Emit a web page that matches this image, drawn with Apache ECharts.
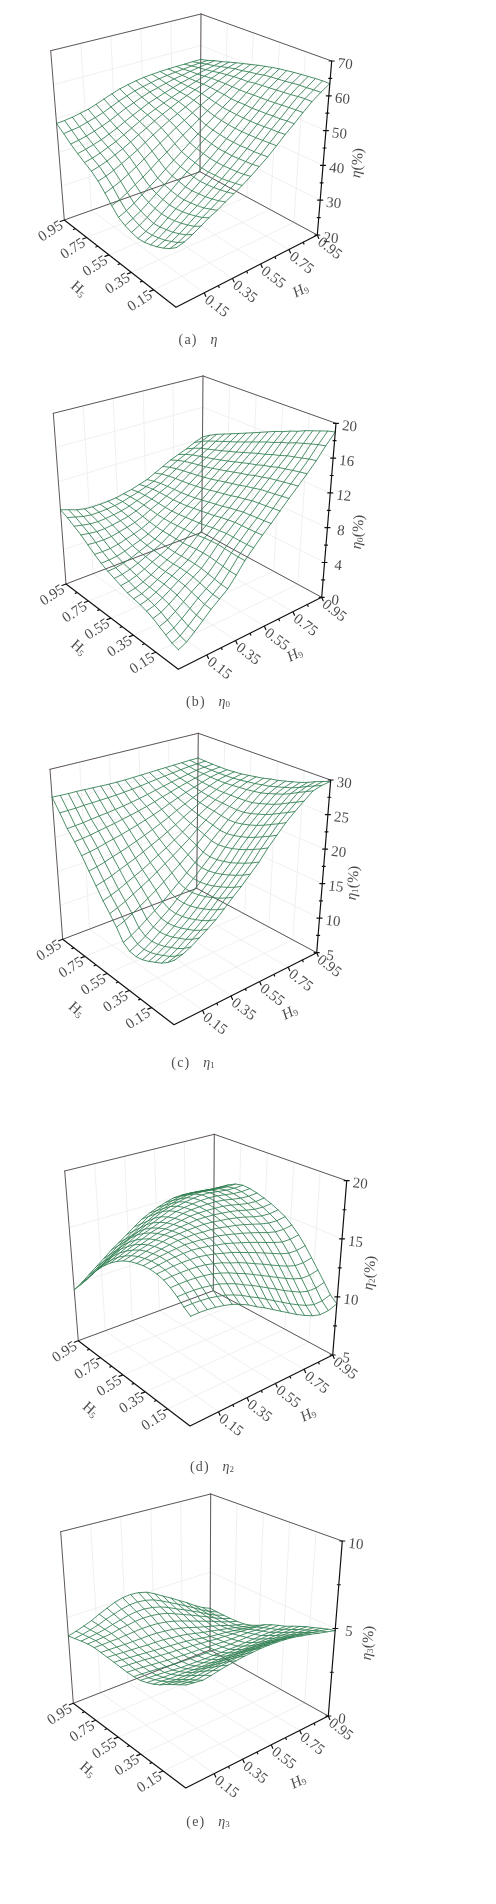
<!DOCTYPE html>
<html><head><meta charset="utf-8">
<style>html,body{margin:0;padding:0;background:#fff}#c{width:496px;height:1904px}</style>
<script src="https://cdn.jsdelivr.net/npm/echarts@6/dist/echarts.min.js"></script>
</head><body><div id="c"></div>
<script>
// mesh positions along both H axes
const hGrid=[-0.05,0.006,0.061,0.117,0.172,0.228,0.283,0.339,0.394,0.45,0.506,0.561,0.617,0.672,0.728,0.783,0.839,0.894,0.95];
const hTicks=[0.15,0.35,0.55,0.75,0.95];
const hTickLabels=['0.15','0.35','0.55','0.75','0.95'];
// each row: one H5 value (ascending), each column: one H9 value (ascending)
const etaA=[
[36,36.5,37.5,38.7,40,41,42.3,43.5,44.8,46.3,48,49.7,51.8,54,56,58.2,60.3,62,63.5],
[34.5,35.1,36.2,37.5,38.9,40.2,41.5,42.9,44.3,45.8,47.6,49.4,51.6,53.7,55.9,58.1,60.3,61.9,63.5],
[33.4,34.2,35.3,36.7,38.2,39.4,40.9,42.4,43.9,45.5,47.4,49.2,51.4,53.6,55.6,57.9,60.1,61.7,63.4],
[32.5,33.3,34.5,36,37.5,38.9,40.4,42,43.5,45.3,47.2,49.1,51.2,53.4,55.5,57.7,59.8,61.6,63.2],
[31.8,32.7,34,35.5,37,38.5,40.1,41.7,43.4,45.1,47,48.9,51.1,53.2,55.3,57.5,59.6,61.4,63],
[31.2,32.2,33.5,35.1,36.7,38.2,39.8,41.5,43.2,45,47,48.9,51,53.1,55.2,57.3,59.4,61.1,62.8],
[31,32,33.3,35,36.6,38.2,39.8,41.6,43.3,45.1,47,48.9,51,53.1,55,57.2,59.2,60.9,62.5],
[31.4,32.4,33.7,35.3,36.9,38.5,40.2,42,43.7,45.4,47.3,49.1,51.1,53.1,55.1,57.1,59,60.7,62.2],
[32,33.1,34.3,35.8,37.4,39,40.6,42.4,44.1,45.8,47.7,49.4,51.3,53.2,55,56.9,58.8,60.4,61.8],
[33,34,35.2,36.7,38.2,39.7,41.4,43.1,44.7,46.4,48.1,49.8,51.6,53.3,55,56.8,58.4,59.9,61.3],
[35,35.8,37,38.4,39.7,41.2,42.8,44.3,45.9,47.5,49,50.6,52.2,53.7,55.3,56.8,58.3,59.6,60.8],
[37.3,38.1,39,40.2,41.5,42.9,44.3,45.8,47.2,48.7,50,51.4,52.8,54.1,55.4,56.8,58.1,59.1,60.2],
[39.4,40,40.9,42,43.1,44.3,45.7,47.1,48.4,49.7,50.9,52.1,53.3,54.5,55.6,56.7,57.8,58.8,59.6],
[41,41.6,42.3,43.3,44.3,45.5,46.8,48,49.3,50.5,51.6,52.7,53.7,54.7,55.6,56.6,57.5,58.3,59],
[42.2,42.7,43.4,44.3,45.2,46.4,47.6,48.8,50,51,52,52.9,53.8,54.7,55.5,56.3,57,57.7,58.3],
[43.5,44,44.6,45.3,46.2,47.2,48.4,49.5,50.6,51.7,52.5,53.3,54.1,54.8,55.4,56,56.6,57.1,57.6],
[45,45.4,45.9,46.6,47.4,48.3,49.4,50.5,51.4,52.4,53.2,53.8,54.4,55,55.4,55.9,56.3,56.7,57],
[46.8,47.1,47.4,48.1,48.7,49.5,50.5,51.5,52.4,53.2,53.8,54.3,54.8,55.1,55.4,55.6,55.9,56.1,56.2],
[48.5,48.7,49,49.5,50,50.8,51.7,52.6,53.4,54,54.5,54.9,55.1,55.3,55.4,55.5,55.5,55.6,55.6]];
const eta0=[
[2.1,2.5,3.2,4,4.8,5.5,6.2,7.3,8.5,9.5,10.5,11.4,12.4,13.4,14.4,15.4,16.5,17.8,19],
[2.3,2.68,3.34,4.1,4.88,5.55,6.25,7.31,8.47,9.45,10.43,11.31,12.3,13.29,14.28,15.26,16.35,17.62,18.8],
[2.7,3.05,3.66,4.36,5.09,5.73,6.39,7.39,8.5,9.44,10.38,11.24,12.2,13.16,14.13,15.09,16.12,17.37,18.5],
[3.1,3.41,3.96,4.62,5.3,5.9,6.53,7.48,8.54,9.43,10.34,11.16,12.11,13.04,13.98,14.9,15.91,17.11,18.2],
[3.5,3.77,4.27,4.88,5.51,6.08,6.67,7.58,8.58,9.43,10.3,11.09,12.01,12.92,13.83,14.73,15.7,16.85,17.9],
[3.8,4.03,4.48,5.03,5.62,6.17,6.72,7.57,8.52,9.32,10.16,10.91,11.8,12.69,13.59,14.45,15.38,16.49,17.5],
[4,4.21,4.62,5.13,5.68,6.2,6.72,7.53,8.44,9.22,10.02,10.77,11.64,12.51,13.4,14.23,15.14,16.23,17.2],
[4.15,4.33,4.7,5.16,5.68,6.16,6.67,7.43,8.29,9.04,9.82,10.53,11.39,12.25,13.11,13.93,14.81,15.86,16.8],
[4.3,4.46,4.79,5.21,5.7,6.16,6.65,7.36,8.19,8.91,9.67,10.37,11.21,12.06,12.91,13.71,14.56,15.58,16.5],
[4.6,4.73,5,5.37,5.82,6.23,6.68,7.35,8.13,8.8,9.53,10.19,11.02,11.84,12.66,13.43,14.25,15.23,16.1],
[4.9,4.99,5.21,5.53,5.93,6.31,6.73,7.35,8.06,8.7,9.38,10.02,10.82,11.61,12.41,13.15,13.94,14.87,15.7],
[5.2,5.25,5.41,5.68,6.03,6.39,6.77,7.34,8,8.59,9.24,9.84,10.62,11.38,12.17,12.87,13.62,14.51,15.3],
[5.6,5.61,5.71,5.92,6.23,6.53,6.88,7.39,7.99,8.53,9.15,9.71,10.46,11.2,11.93,12.61,13.32,14.15,14.9],
[6.1,6.07,6.1,6.25,6.5,6.75,7.05,7.5,8.03,8.53,9.09,9.61,10.33,11.03,11.73,12.36,13.03,13.81,14.5],
[6.7,6.61,6.58,6.65,6.84,7.05,7.3,7.67,8.14,8.57,9.08,9.56,10.22,10.88,11.56,12.13,12.74,13.47,14.1],
[7.3,7.16,7.05,7.07,7.18,7.35,7.53,7.85,8.24,8.62,9.08,9.5,10.13,10.74,11.37,11.9,12.46,13.12,13.7],
[7.8,7.61,7.44,7.39,7.45,7.57,7.71,7.96,8.29,8.61,9.03,9.41,10,10.58,11.17,11.65,12.17,12.77,13.3],
[8.3,8.06,7.82,7.7,7.7,7.76,7.86,8.03,8.3,8.56,8.91,9.25,9.8,10.34,10.88,11.32,11.78,12.34,12.8],
[8.7,8.4,8.1,7.9,7.85,7.85,7.9,8,8.2,8.4,8.7,9,9.5,10,10.5,10.9,11.3,11.8,12.2]];
const eta1=[
[13.7,14,14.5,15.2,15.9,16.7,17.7,18.8,19.8,21,22.2,23.7,25,26.3,27.4,28.4,29.4,29.7,29.8],
[12.8,13.16,13.7,14.45,15.18,16.01,17.02,18.15,19.16,20.37,21.59,23.08,24.4,25.7,26.82,27.83,28.87,29.23,29.4],
[12.1,12.51,13.09,13.86,14.61,15.46,16.48,17.6,18.63,19.84,21.06,22.54,23.85,25.15,26.28,27.32,28.35,28.76,29],
[11.6,12.04,12.64,13.42,14.18,15.03,16.04,17.15,18.17,19.37,20.57,22.02,23.31,24.59,25.71,26.74,27.77,28.22,28.5],
[11.1,11.57,12.19,12.99,13.77,14.62,15.64,16.73,17.76,18.94,20.13,21.56,22.83,24.1,25.21,26.25,27.28,27.77,28.1],
[10.7,11.21,11.85,12.66,13.46,14.32,15.33,16.42,17.44,18.61,19.8,21.19,22.45,23.7,24.82,25.85,26.9,27.42,27.8],
[10.5,11.03,11.69,12.5,13.3,14.16,15.17,16.22,17.24,18.38,19.54,20.91,22.14,23.37,24.46,25.5,26.52,27.09,27.5],
[10.6,11.14,11.79,12.6,13.38,14.21,15.18,16.22,17.2,18.31,19.43,20.74,21.93,23.12,24.18,25.18,26.19,26.76,27.2],
[11.2,11.73,12.36,13.12,13.87,14.67,15.58,16.54,17.48,18.53,19.6,20.83,21.95,23.07,24.09,25.05,26,26.56,27],
[12.7,13.16,13.71,14.38,15.03,15.74,16.54,17.39,18.22,19.15,20.1,21.21,22.21,23.21,24.12,24.97,25.82,26.32,26.7],
[14,14.4,14.89,15.49,16.07,16.69,17.4,18.16,18.9,19.72,20.57,21.57,22.46,23.37,24.17,24.94,25.71,26.16,26.5],
[15.2,15.56,15.98,16.52,17.03,17.57,18.2,18.86,19.51,20.24,21.01,21.88,22.69,23.49,24.21,24.9,25.59,25.99,26.3],
[16.7,16.99,17.34,17.8,18.22,18.67,19.19,19.75,20.3,20.92,21.57,22.32,23.01,23.7,24.32,24.9,25.5,25.84,26.1],
[18.2,18.43,18.72,19.09,19.42,19.8,20.21,20.66,21.13,21.64,22.19,22.83,23.4,23.98,24.5,25,25.49,25.79,26],
[19.8,19.97,20.17,20.47,20.72,20.99,21.31,21.65,22.01,22.41,22.85,23.36,23.82,24.29,24.7,25.1,25.5,25.74,25.9],
[21.2,21.32,21.46,21.68,21.87,22.07,22.31,22.55,22.83,23.13,23.48,23.88,24.24,24.61,24.95,25.27,25.58,25.77,25.9],
[22.5,22.58,22.67,22.83,22.96,23.07,23.23,23.39,23.59,23.81,24.07,24.37,24.64,24.92,25.16,25.4,25.64,25.8,25.9],
[24.2,24.22,24.23,24.31,24.35,24.39,24.44,24.49,24.6,24.71,24.85,25.03,25.19,25.35,25.5,25.65,25.8,25.89,25.95],
[25.9,25.85,25.8,25.8,25.75,25.7,25.65,25.6,25.6,25.6,25.65,25.7,25.75,25.8,25.85,25.9,25.95,26,26]];
const eta2=[
[13.9,13.9,13.85,13.75,13.6,13.4,13.1,12.75,12.3,11.9,11.45,11,10.55,10.1,9.7,9.35,9.12,9.15,9.4],
[14.3,14.3,14.25,14.17,14.02,13.84,13.56,13.23,12.81,12.44,12.01,11.57,11.14,10.7,10.3,9.94,9.69,9.69,9.9],
[14.8,14.8,14.78,14.71,14.59,14.44,14.18,13.89,13.51,13.17,12.77,12.36,11.96,11.54,11.15,10.79,10.55,10.52,10.7],
[15.2,15.22,15.22,15.17,15.09,14.96,14.75,14.49,14.16,13.85,13.49,13.12,12.74,12.36,11.98,11.64,11.38,11.35,11.5],
[15.5,15.54,15.56,15.55,15.5,15.41,15.23,15.03,14.74,14.49,14.17,13.83,13.5,13.14,12.79,12.46,12.21,12.17,12.3],
[15.65,15.72,15.78,15.8,15.79,15.76,15.62,15.47,15.25,15.05,14.77,14.49,14.2,13.89,13.57,13.25,13.02,12.97,13.1],
[15.7,15.79,15.9,15.95,15.99,16,15.92,15.81,15.65,15.51,15.28,15.05,14.8,14.53,14.24,13.96,13.73,13.69,13.8],
[15.65,15.78,15.91,16.01,16.08,16.14,16.11,16.06,15.94,15.87,15.7,15.51,15.31,15.08,14.83,14.56,14.35,14.3,14.4],
[15.5,15.66,15.82,15.96,16.08,16.19,16.2,16.21,16.15,16.12,16.01,15.86,15.71,15.52,15.29,15.05,14.86,14.8,14.9],
[15.3,15.48,15.69,15.85,16.01,16.16,16.21,16.26,16.27,16.28,16.21,16.11,15.99,15.84,15.65,15.41,15.23,15.17,15.25],
[15,15.2,15.44,15.65,15.84,16.03,16.13,16.23,16.29,16.37,16.35,16.3,16.21,16.1,15.94,15.73,15.55,15.49,15.55],
[14.6,14.83,15.1,15.35,15.59,15.82,15.98,16.13,16.25,16.38,16.41,16.4,16.36,16.3,16.16,15.97,15.81,15.74,15.8],
[14.1,14.37,14.67,14.97,15.24,15.54,15.73,15.95,16.12,16.31,16.4,16.44,16.45,16.43,16.33,16.16,16.02,15.95,16],
[13.5,13.8,14.15,14.48,14.81,15.16,15.41,15.68,15.93,16.18,16.31,16.41,16.47,16.49,16.43,16.3,16.17,16.11,16.15],
[12.8,13.13,13.53,13.91,14.28,14.68,14.98,15.31,15.62,15.93,16.12,16.28,16.39,16.47,16.43,16.32,16.21,16.16,16.2],
[12,12.36,12.79,13.21,13.63,14.08,14.42,14.81,15.18,15.55,15.78,15.99,16.14,16.26,16.26,16.18,16.08,16.03,16.05],
[11.1,11.49,11.94,12.4,12.85,13.34,13.73,14.17,14.58,15,15.29,15.53,15.73,15.88,15.91,15.84,15.75,15.69,15.7],
[10.3,10.7,11.18,11.65,12.13,12.66,13.07,13.55,14,14.47,14.78,15.06,15.28,15.46,15.5,15.44,15.35,15.27,15.25],
[9.5,9.9,10.4,10.9,11.4,11.95,12.4,12.9,13.4,13.9,14.25,14.55,14.8,15,15.05,15,14.9,14.8,14.75]];
const eta3=[
[5.52,5.45,5.38,5.44,5.53,5.6,5.65,5.7,5.72,5.74,5.72,5.69,5.63,5.55,5.42,5.3,5.15,5.02,4.88],
[5.3,5.24,5.17,5.23,5.29,5.36,5.39,5.43,5.43,5.46,5.44,5.42,5.38,5.31,5.22,5.12,5,4.89,4.78],
[5.08,5.04,4.97,5,5.05,5.08,5.11,5.13,5.14,5.16,5.14,5.13,5.1,5.05,4.99,4.91,4.82,4.73,4.65],
[4.85,4.8,4.75,4.77,4.79,4.81,4.81,4.84,4.84,4.86,4.85,4.84,4.82,4.79,4.75,4.69,4.63,4.57,4.5],
[4.6,4.57,4.51,4.52,4.52,4.53,4.52,4.53,4.54,4.55,4.54,4.54,4.54,4.52,4.51,4.49,4.45,4.41,4.37],
[4.4,4.38,4.32,4.32,4.3,4.26,4.25,4.25,4.25,4.26,4.26,4.25,4.26,4.27,4.27,4.26,4.24,4.22,4.2],
[4.25,4.22,4.17,4.15,4.12,4.09,4.06,4.05,4.04,4.05,4.03,4.03,4.04,4.05,4.06,4.07,4.06,4.04,4.02],
[4.13,4.09,4.06,4.02,3.97,3.92,3.9,3.88,3.86,3.86,3.84,3.83,3.82,3.84,3.85,3.86,3.85,3.83,3.82],
[4.1,4.07,4.03,3.98,3.94,3.88,3.85,3.83,3.8,3.79,3.77,3.75,3.73,3.73,3.74,3.74,3.73,3.69,3.68],
[4.1,4.07,4.03,3.98,3.93,3.88,3.84,3.81,3.78,3.76,3.72,3.69,3.65,3.63,3.63,3.62,3.58,3.54,3.52],
[4.13,4.1,4.06,4.03,3.97,3.92,3.88,3.85,3.8,3.77,3.71,3.66,3.6,3.57,3.53,3.49,3.43,3.38,3.32],
[4.17,4.14,4.1,4.06,4.02,3.97,3.93,3.89,3.85,3.8,3.72,3.63,3.54,3.47,3.41,3.33,3.24,3.15,3.08],
[4.2,4.18,4.14,4.12,4.09,4.05,4.04,4.01,3.95,3.89,3.8,3.68,3.56,3.46,3.34,3.24,3.11,2.98,2.88],
[4.23,4.22,4.21,4.19,4.19,4.19,4.19,4.17,4.12,4.05,3.95,3.81,3.64,3.5,3.36,3.21,3.03,2.88,2.75],
[4.26,4.26,4.28,4.28,4.32,4.35,4.38,4.37,4.34,4.26,4.14,3.98,3.8,3.62,3.44,3.25,3.04,2.86,2.7],
[4.22,4.25,4.29,4.34,4.44,4.5,4.57,4.6,4.58,4.51,4.39,4.19,3.98,3.77,3.54,3.32,3.07,2.85,2.67],
[4.13,4.19,4.26,4.34,4.47,4.58,4.69,4.75,4.75,4.68,4.55,4.35,4.1,3.88,3.62,3.38,3.09,2.85,2.66],
[4.03,4.12,4.23,4.36,4.54,4.69,4.83,4.93,4.95,4.89,4.76,4.53,4.27,4.01,3.73,3.45,3.14,2.87,2.66],
[3.92,4.05,4.2,4.37,4.6,4.8,5,5.13,5.17,5.13,5,4.75,4.45,4.17,3.85,3.55,3.2,2.9,2.67]];

const zTicksA=[20,30,40,50,60,70];
const zTicks0=[0,4,8,12,16,20];
const zTicks1=[5,10,15,20,25,30];
const zTicks2=[5,10,15,20];
const zTicks3=[0,5,10];

// page placement of each plot box (floor corners f*, top corners t*) and its labels
const panels=[
 {rows:etaA,zt:zTicksA,sub:'',cap:'a',
  fF:[176,307.3],fR:[317.3,235],fL:[64.3,220],fB:[200,171.7],tF:[177,120.7],tR:[331.7,61],tL:[50.7,50.7],tB:[201,14],
  zT:[357.7,163],h5T:[78.3,289.3],h9T:[300.7,290.7],capP:[198,340]},
 {rows:eta0,zt:zTicks0,sub:'0',cap:'b',
  fF:[178.3,669.3],fR:[321.7,597.3],fL:[66,584],fB:[201.7,532.3],tF:[179.3,483.3],tR:[336,423.3],tL:[53.3,413.3],tB:[203,376],
  zT:[358.3,532],h5T:[78.3,648],h9T:[295,655],capP:[208,702]},
 {rows:eta1,zt:zTicks1,sub:'1',cap:'c',
  fF:[174,1024.7],fR:[316.7,952.7],fL:[62.7,939.3],fB:[196.7,888.3],tF:[175,839.7],tR:[330.7,780],tL:[50,769.3],tB:[198.3,733.3],
  zT:[353.3,883],h5T:[76,1010],h9T:[290,1013],capP:[193,1063]},
 {rows:eta2,zt:zTicks2,sub:'2',cap:'d',
  fF:[190,1426],fR:[332.7,1355],fL:[78.3,1340.7],fB:[213.3,1290.7],tF:[191,1241],tR:[346.7,1180.7],tL:[64.7,1171],tB:[214.3,1134.3],
  zT:[370,1273],h5T:[90,1410],h9T:[308.3,1415],capP:[212,1467]},
 {rows:eta3,zt:zTicks3,sub:'3',cap:'e',
  fF:[185.7,1788],fR:[328.3,1716],fL:[73.3,1703.3],fB:[210,1650],tF:[186.7,1601.3],tR:[342.3,1541],tL:[60.7,1531.7],tB:[210.7,1494],
  zT:[368.3,1643],h5T:[87.3,1770],h9T:[298.3,1782],capP:[208,1822]}
];

const hMin=-0.05,hMax=0.95;
const SERIF='"Liberation Serif","Times New Roman",serif';
const MESH='#2f7d4f',FRAME='#5f575c',GRID='#ececec',AXIS='#111';

function lerp(a,b,t){return [a[0]+(b[0]-a[0])*t,a[1]+(b[1]-a[1])*t];}
function project(p,h9,h5,z){
  const u=(h9-hMin)/(hMax-hMin),v=(h5-hMin)/(hMax-hMin);
  const zs=p.zt,w=(z-zs[0])/(zs[zs.length-1]-zs[0]);
  const fl=lerp(lerp(p.fF,p.fR,u),lerp(p.fL,p.fB,u),v);
  const tp=lerp(lerp(p.tF,p.tR,u),lerp(p.tL,p.tB,u),v);
  return lerp(fl,tp,w);
}
function lineSeries(data,color,width,z,opacity){
  return {type:'line',data,silent:true,animation:false,showSymbol:false,symbol:'none',clip:false,connectNulls:false,z,
    lineStyle:{color,width,opacity:opacity==null?1:opacity,cap:'round',join:'round'}};
}
const BR=[NaN,NaN];
const series=[],labels=[];
function textLabel(pos,rich,formatter,rotate){
  labels.push({value:pos,label:{show:true,position:'inside',formatter,rotate,rich,align:'center',verticalAlign:'middle'}});
}
const tickRich={n:{fontFamily:SERIF,fontSize:15,color:'#1c1c1c'}};
const titleRich={n:{fontFamily:SERIF,fontSize:15,color:'#1c1c1c'},
  i:{fontFamily:SERIF,fontSize:15,fontStyle:'italic',color:'#1c1c1c'},
  s:{fontFamily:SERIF,fontSize:9,color:'#1c1c1c',verticalAlign:'bottom',padding:[6,0,0,0]}};
const capRich={n:{fontFamily:SERIF,fontSize:14,color:'#222'},
  i:{fontFamily:SERIF,fontSize:14,fontStyle:'italic',color:'#222'},
  s:{fontFamily:SERIF,fontSize:9,color:'#222',verticalAlign:'bottom',padding:[5,0,0,0]}};

panels.forEach(p=>{
  const zs=p.zt,z0=zs[0],z1=zs[zs.length-1];
  // faint grid on floor and walls
  const g=[];
  const seg=(a,b)=>{g.push(a,b,BR);};
  hTicks.forEach(t=>{
    seg(project(p,t,hMin,z0),project(p,t,hMax,z0));
    seg(project(p,hMin,t,z0),project(p,hMax,t,z0));
    seg(project(p,t,hMax,z0),project(p,t,hMax,z1));
    seg(project(p,hMax,t,z0),project(p,hMax,t,z1));
  });
  zs.forEach(z=>{
    seg(project(p,hMin,hMax,z),project(p,hMax,hMax,z));
    seg(project(p,hMax,hMin,z),project(p,hMax,hMax,z));
  });
  series.push(lineSeries(g,GRID,0.8,1));
  // thin box frame
  const f=[];
  [[hMin,hMax,z0,hMax,hMax,z0],[hMax,hMax,z0,hMax,hMin,z0],[hMin,hMax,z0,hMin,hMax,z1],
   [hMin,hMax,z1,hMax,hMax,z1],[hMax,hMax,z1,hMax,hMin,z1],[hMax,hMax,z0,hMax,hMax,z1]].forEach(s=>{
    f.push(project(p,s[0],s[1],s[2]),project(p,s[3],s[4],s[5]),BR);
  });
  series.push(lineSeries(f,FRAME,1,2));
  // surface mesh
  const m=[];
  p.rows.forEach((row,j)=>{row.forEach((v,i)=>m.push(project(p,hGrid[i],hGrid[j],v)));m.push(BR);});
  hGrid.forEach((_,i)=>{p.rows.forEach((row,j)=>m.push(project(p,hGrid[i],hGrid[j],row[i])));m.push(BR);});
  series.push(lineSeries(m,MESH,0.95,3,0.9));
  // axes and ticks
  const a=[];
  a.push(project(p,hMin,hMax,z0),project(p,hMin,hMin,z0),project(p,hMax,hMin,z0),project(p,hMax,hMin,z1),BR);
  const off=(q,dx,dy)=>[q[0]+dx,q[1]+dy];
  hTicks.forEach((t,k)=>{
    let q=project(p,hMin,t,z0);a.push(q,off(q,-4,1.5),BR);
    q=project(p,t,hMin,z0);a.push(q,off(q,1.5,3.5),BR);
    if(k<hTicks.length-1){
      const mid=(t+hTicks[k+1])/2;
      q=project(p,hMin,mid,z0);a.push(q,off(q,-2,0.8),BR);
      q=project(p,mid,hMin,z0);a.push(q,off(q,0.8,1.8),BR);
    }
  });
  zs.forEach((z,k)=>{
    const q=project(p,hMax,hMin,z);a.push(off(q,-2.5,0),off(q,2.5,0),BR);
    if(k<zs.length-1){const r=project(p,hMax,hMin,(z+zs[k+1])/2);a.push(off(r,-1.5,0),off(r,1.5,0),BR);}
  });
  series.push(lineSeries(a,AXIS,1.2,4));
  // tick labels
  hTicks.forEach((t,k)=>{
    const q5=project(p,hMin,t,z0);
    textLabel(off(q5,-13.5,11.5),tickRich,'{n|'+hTickLabels[k]+'}',33);
    const q9=project(p,t,hMin,z0);
    textLabel(off(q9,12.3,13.7),tickRich,'{n|'+hTickLabels[k]+'}',-38);
  });
  zs.forEach(z=>{
    textLabel(off(project(p,hMax,hMin,z),13.5,3.5),tickRich,'{n|'+z+'}',-6);
  });
  // titles and caption
  const etaText='{i|\u03b7}'+(p.sub?'{s|'+p.sub+'}':'');
  textLabel(p.zT,titleRich,etaText+'{n|(%)}',85);
  textLabel(p.h5T,titleRich,'{n|H}{s|5}',-42);
  textLabel(p.h9T,titleRich,'{i|H}{s|9}',28);
  textLabel(p.capP,capRich,'{n|(\u200a'+p.cap+'\u200a)\u2003}'+etaText,0);
});
series.push({type:'scatter',data:labels,symbolSize:1,silent:true,animation:false,clip:false,z:6,itemStyle:{color:'rgba(0,0,0,0)'}});

const chart=echarts.init(document.getElementById('c'),null,{renderer:'canvas',width:496,height:1904});
chart.setOption({
  animation:false,backgroundColor:'#fff',
  grid:{left:0,right:0,top:0,bottom:0},
  xAxis:{type:'value',min:0,max:496,show:false},
  yAxis:{type:'value',min:0,max:1904,inverse:true,show:false},
  series
});
</script></body></html>
